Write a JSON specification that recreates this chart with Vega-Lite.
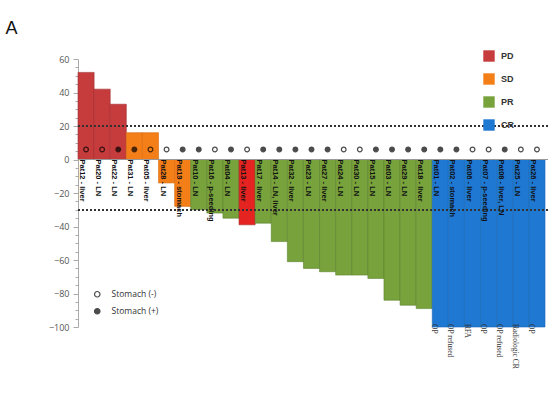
{
  "$schema": "https://vega.github.io/schema/vega-lite/v6.json",
  "width": 470,
  "height": 268,
  "autosize": "none",
  "padding": {"left": 78, "top": 59, "right": 10, "bottom": 91},
  "title": {
    "text": "A",
    "anchor": "start",
    "dx": -43,
    "offset": -6,
    "baseline": "bottom",
    "fontSize": 18,
    "fontWeight": "normal",
    "font": "Liberation Sans",
    "color": "#111"
  },
  "data": {
    "values": [
      {"patient": "Pat12", "label": "Pat12 - liver", "response": "PD", "change": 52, "stomach": "Stomach (-)", "note": ""},
      {"patient": "Pat20", "label": "Pat20 - LN", "response": "PD", "change": 42, "stomach": "Stomach (-)", "note": ""},
      {"patient": "Pat22", "label": "Pat22 - LN", "response": "PD", "change": 33, "stomach": "Stomach (+)", "note": ""},
      {"patient": "Pat31", "label": "Pat31 - LN", "response": "SD", "change": 16, "stomach": "Stomach (+)", "note": ""},
      {"patient": "Pat05", "label": "Pat05 - liver", "response": "SD", "change": 16, "stomach": "Stomach (-)", "note": ""},
      {"patient": "Pat28", "label": "Pat28 - LN", "response": "SD", "change": -14, "stomach": "Stomach (-)", "note": ""},
      {"patient": "Pat19", "label": "Pat19 - stomach", "response": "SD", "change": -28, "stomach": "Stomach (+)", "note": ""},
      {"patient": "Pat10", "label": "Pat10 - LN", "response": "PR", "change": -30, "stomach": "Stomach (+)", "note": ""},
      {"patient": "Pat16", "label": "Pat16 - p-seeding", "response": "PR", "change": -32, "stomach": "Stomach (-)", "note": ""},
      {"patient": "Pat04", "label": "Pat04 - LN", "response": "PR", "change": -35, "stomach": "Stomach (+)", "note": ""},
      {"patient": "Pat13", "label": "Pat13 - liver", "response": "PD", "change": -39, "stomach": "Stomach (-)", "note": ""},
      {"patient": "Pat17", "label": "Pat17 - liver", "response": "PR", "change": -38, "stomach": "Stomach (+)", "note": ""},
      {"patient": "Pat14", "label": "Pat14 - LN, liver", "response": "PR", "change": -49, "stomach": "Stomach (+)", "note": ""},
      {"patient": "Pat32", "label": "Pat32 - liver", "response": "PR", "change": -61, "stomach": "Stomach (+)", "note": ""},
      {"patient": "Pat23", "label": "Pat23 - LN", "response": "PR", "change": -65, "stomach": "Stomach (+)", "note": ""},
      {"patient": "Pat27", "label": "Pat27 - liver", "response": "PR", "change": -67, "stomach": "Stomach (+)", "note": ""},
      {"patient": "Pat24", "label": "Pat24 - LN", "response": "PR", "change": -69, "stomach": "Stomach (-)", "note": ""},
      {"patient": "Pat30", "label": "Pat30 - LN", "response": "PR", "change": -69, "stomach": "Stomach (-)", "note": ""},
      {"patient": "Pat15", "label": "Pat15 - LN", "response": "PR", "change": -71, "stomach": "Stomach (+)", "note": ""},
      {"patient": "Pat03", "label": "Pat03 - LN", "response": "PR", "change": -84, "stomach": "Stomach (+)", "note": ""},
      {"patient": "Pat29", "label": "Pat29 - LN", "response": "PR", "change": -87, "stomach": "Stomach (+)", "note": ""},
      {"patient": "Pat18", "label": "Pat18 - liver", "response": "PR", "change": -89, "stomach": "Stomach (+)", "note": ""},
      {"patient": "Pat01", "label": "Pat01 - LN", "response": "CR", "change": -100, "stomach": "Stomach (+)", "note": "OP"},
      {"patient": "Pat02", "label": "Pat02 - stomach", "response": "CR", "change": -100, "stomach": "Stomach (+)", "note": "OP refused"},
      {"patient": "Pat06", "label": "Pat06 - liver", "response": "CR", "change": -100, "stomach": "Stomach (-)", "note": "RFA"},
      {"patient": "Pat07", "label": "Pat07 - p-seeding", "response": "CR", "change": -100, "stomach": "Stomach (-)", "note": "OP"},
      {"patient": "Pat08", "label": "Pat08 - liver, LN", "response": "CR", "change": -100, "stomach": "Stomach (+)", "note": "OP refused"},
      {"patient": "Pat25", "label": "Pat25 - LN", "response": "CR", "change": -100, "stomach": "Stomach (-)", "note": "Radiologic CR"},
      {"patient": "Pat26", "label": "Pat26 - liver", "response": "CR", "change": -100, "stomach": "Stomach (-)", "note": "OP"}
    ]
  },
  "layer": [
    {
      "mark": {"type": "bar", "strokeWidth": 0.6},
      "encoding": {
        "x": {
          "field": "patient",
          "type": "nominal",
          "sort": null,
          "scale": {"range": [0, 467], "paddingInner": 0, "paddingOuter": 0},
          "axis": null
        },
        "y": {
          "field": "change",
          "type": "quantitative",
          "scale": {"domain": [-100, 60], "nice": false},
          "axis": {"title": null, "values": [-100, -95, -90, -85, -80, -75, -70, -65, -60, -55, -50, -45, -40, -35, -30, -25, -20, -15, -10, -5, 0, 5, 10, 15, 20, 25, 30, 35, 40, 45, 50, 55, 60], "labelExpr": "datum.value % 20 === 0 ? datum.label : ''", "labelOverlap": false, "tickSize": {"condition": {"test": "datum.value % 20 === 0", "value": 5}, "value": 3}}
        },
        "color": {
          "condition": {"test": "datum.patient === 'Pat13'", "value": "#e52320"},
          "field": "response",
          "type": "nominal",
          "scale": {"domain": ["PD", "SD", "PR", "CR"], "range": ["#c63c3d", "#f47e18", "#78a23b", "#1f78d2"]},
          "legend": {
            "title": null,
            "orient": "none",
            "legendX": 405,
            "legendY": -9,
            "padding": 0,
            "symbolType": "square",
            "symbolSize": 130,
            "symbolStrokeWidth": 0,
            "rowPadding": 11,
            "labelFont": "Liberation Sans",
            "labelFontWeight": "bold",
            "labelFontSize": 9,
            "labelColor": "#333",
            "labelOffset": 6
          }
        },
        "stroke": {
          "field": "response",
          "type": "nominal",
          "scale": {"domain": ["PD", "SD", "PR", "CR"], "range": ["#a22c2d", "#d86a0d", "#5d8330", "#1866b5"]},
          "legend": null
        }
      }
    },
    {
      "mark": {"type": "rule", "color": "#999", "strokeWidth": 1},
      "encoding": {"y": {"datum": 0, "type": "quantitative", "axis": {"title": null, "values": [-100, -95, -90, -85, -80, -75, -70, -65, -60, -55, -50, -45, -40, -35, -30, -25, -20, -15, -10, -5, 0, 5, 10, 15, 20, 25, 30, 35, 40, 45, 50, 55, 60], "labelExpr": "datum.value % 20 === 0 ? datum.label : ''", "labelOverlap": false, "tickSize": {"condition": {"test": "datum.value % 20 === 0", "value": 5}, "value": 3}}}}
    },
    {
      "mark": {"type": "rule", "color": "#333", "strokeWidth": 0.8, "strokeDash": [2, 2]},
      "encoding": {"y": {"datum": 20, "type": "quantitative", "axis": {"title": null, "values": [-100, -95, -90, -85, -80, -75, -70, -65, -60, -55, -50, -45, -40, -35, -30, -25, -20, -15, -10, -5, 0, 5, 10, 15, 20, 25, 30, 35, 40, 45, 50, 55, 60], "labelExpr": "datum.value % 20 === 0 ? datum.label : ''", "labelOverlap": false, "tickSize": {"condition": {"test": "datum.value % 20 === 0", "value": 5}, "value": 3}}}}
    },
    {
      "mark": {"type": "rule", "color": "#333", "strokeWidth": 0.8, "strokeDash": [2, 2]},
      "encoding": {"y": {"datum": -30, "type": "quantitative", "axis": {"title": null, "values": [-100, -95, -90, -85, -80, -75, -70, -65, -60, -55, -50, -45, -40, -35, -30, -25, -20, -15, -10, -5, 0, 5, 10, 15, 20, 25, 30, 35, 40, 45, 50, 55, 60], "labelExpr": "datum.value % 20 === 0 ? datum.label : ''", "labelOverlap": false, "tickSize": {"condition": {"test": "datum.value % 20 === 0", "value": 5}, "value": 3}}}}
    },
    {
      "mark": {"type": "point", "filled": true, "stroke": "black", "strokeWidth": 1.2, "size": 22},
      "encoding": {
        "x": {"field": "patient", "type": "nominal", "sort": null},
        "y": {"datum": 6, "type": "quantitative", "axis": {"title": null, "values": [-100, -95, -90, -85, -80, -75, -70, -65, -60, -55, -50, -45, -40, -35, -30, -25, -20, -15, -10, -5, 0, 5, 10, 15, 20, 25, 30, 35, 40, 45, 50, 55, 60], "labelExpr": "datum.value % 20 === 0 ? datum.label : ''", "labelOverlap": false, "tickSize": {"condition": {"test": "datum.value % 20 === 0", "value": 5}, "value": 3}}},
        "fill": {
          "field": "stomach",
          "type": "nominal",
          "scale": {"domain": ["Stomach (-)", "Stomach (+)"], "range": ["transparent", "black"]},
          "legend": {
            "title": null,
            "orient": "none",
            "legendX": 15,
            "legendY": 231,
            "padding": 0,
            "symbolType": "circle",
            "symbolSize": 30,
            "symbolStrokeColor": "black",
            "symbolStrokeWidth": 1.2,
            "rowPadding": 6,
            "labelFont": "Open Sans",
            "labelFontSize": 8.5,
            "labelColor": "#333",
            "labelOffset": 10
          }
        }
      }
    },
    {
      "mark": {"type": "text", "angle": 90, "align": "left", "baseline": "middle", "dy": 4, "font": "Liberation Sans", "fontWeight": "bold", "fontSize": 7.5, "color": "#111"},
      "encoding": {
        "x": {"field": "patient", "type": "nominal", "sort": null},
        "y": {"datum": 0, "type": "quantitative", "axis": {"title": null, "values": [-100, -95, -90, -85, -80, -75, -70, -65, -60, -55, -50, -45, -40, -35, -30, -25, -20, -15, -10, -5, 0, 5, 10, 15, 20, 25, 30, 35, 40, 45, 50, 55, 60], "labelExpr": "datum.value % 20 === 0 ? datum.label : ''", "labelOverlap": false, "tickSize": {"condition": {"test": "datum.value % 20 === 0", "value": 5}, "value": 3}}},
        "text": {"field": "label"}
      }
    },
    {
      "transform": [{"filter": "datum.note !== ''"}],
      "mark": {"type": "text", "angle": 90, "align": "left", "baseline": "middle", "dy": 6, "dx": -3, "font": "Liberation Serif", "fontSize": 7.5, "color": "#333"},
      "encoding": {
        "x": {"field": "patient", "type": "nominal", "sort": null},
        "y": {"datum": -100, "type": "quantitative", "axis": {"title": null, "values": [-100, -95, -90, -85, -80, -75, -70, -65, -60, -55, -50, -45, -40, -35, -30, -25, -20, -15, -10, -5, 0, 5, 10, 15, 20, 25, 30, 35, 40, 45, 50, 55, 60], "labelExpr": "datum.value % 20 === 0 ? datum.label : ''", "labelOverlap": false, "tickSize": {"condition": {"test": "datum.value % 20 === 0", "value": 5}, "value": 3}}},
        "text": {"field": "note"}
      }
    }
  ],
  "config": {
    "view": {"stroke": null},
    "axisY": {
      "labelFont": "Open Sans",
      "labelFontSize": 9,
      "labelColor": "#555",
      "labelPadding": 4,
      "tickColor": "#aaa",
      "domainColor": "#aaa",
      "grid": false
    }
  }
}
